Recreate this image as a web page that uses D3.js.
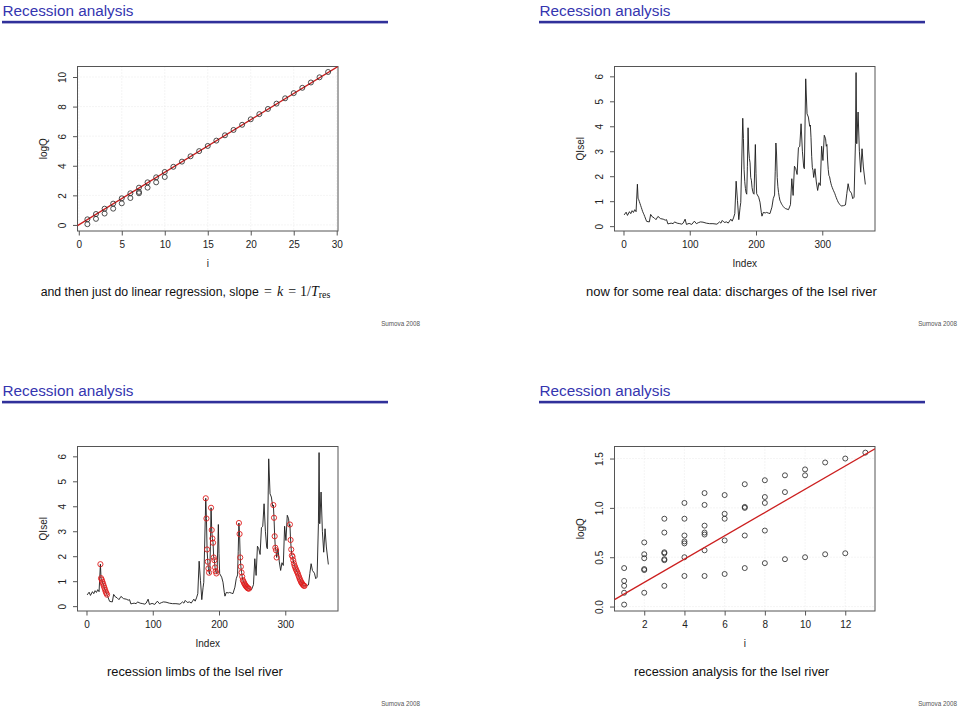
<!DOCTYPE html>
<html><head><meta charset="utf-8">
<script src="https://cdn.jsdelivr.net/npm/d3@7"></script>
<style>body{margin:0;background:#fff} svg{display:block}</style>
</head><body>
<svg id="c" width="960" height="710"></svg>
<script>
// ---------- DATA ----------
// Slide 1: synthetic recession example (i vs logQ)
const fitI    = [1,1,2,2,3,3,4,4,5,5,6,6,7,7,7,8,8,9,9,10,10,11,12,13,14,15,16,17,18,19,20,21,22,23,24,25,26,27,28,29];
const fitLogQ = [0.38,0.05,0.74,0.41,1.10,0.77,1.44,1.10,1.80,1.46,2.14,1.82,2.52,2.23,2.14,2.88,2.52,3.22,2.88,3.58,3.24,
                 3.93,4.28,4.64,4.99,5.34,5.70,6.06,6.42,6.77,7.14,7.49,7.84,8.20,8.56,8.91,9.27,9.63,9.98,10.34];
const fitSlope = 0.355, fitIntercept = 0.01;

// Slides 2/3: daily discharge of the Isel river (Index vs QIsel), read at key days
const qIndex = [1,4,6,9,11,13,15,17,19,21,22,23,24,25,26,27,28,29,30,31,32,34,35,39,41,44,46,49,52,56,60,63,65,67,70,72,75,77,81,85,88,90,93,95,99,103,107,110,113,116,120,125,130,135,141,145,147,149,152,156,158,162,164,166,168,170,172,174,176,177,
  180,181,182,183,184,185,186,187,188,189,190,191,192,193,194,195,196,197,199,200,201,204,206,208,209,211,214,216,219,221,224,226,228,229,
  230,231,232,233,234,235,236,237,238,239,240,241,242,243,244,245,249,252,254,256,258,260,262,264,266,268,270,272,273,275,277,279,281,
  282,283,284,285,286,287,289,291,293,295,297,299,301,303,305,306,
  307,308,309,310,311,312,313,314,315,316,317,318,319,320,321,322,323,324,325,326,327,328,329,
  332,335,337,339,341,344,346,348,350,351,352,354,356,358,360,362,365];
const qValue = [0.45,0.56,0.43,0.58,0.50,0.62,0.55,0.66,0.58,1.68,1.12,1.06,0.98,0.90,0.82,0.74,0.66,0.58,0.52,0.46,0.39,0.25,0.19,0.17,0.47,0.36,0.34,0.26,0.39,0.30,0.28,0.24,0.26,0.09,0.11,0.12,0.10,0.17,0.12,0.10,0.08,0.12,0.28,0.07,0.11,0.07,0.20,0.10,0.14,0.17,0.16,0.12,0.10,0.10,0.08,0.17,0.12,0.23,0.15,0.17,0.12,0.28,0.20,0.33,0.50,1.80,1.03,0.26,0.76,0.95,
  4.32,3.51,2.27,1.78,1.51,1.34,1.28,2.40,3.94,3.05,2.71,2.54,1.95,1.84,1.55,1.40,1.31,1.28,3.27,2.10,1.30,1.16,0.96,0.55,0.40,0.55,0.53,0.55,0.52,0.50,0.76,1.10,1.25,2.20,
  3.33,2.89,1.95,1.58,1.35,1.18,1.04,0.98,0.92,0.87,0.83,0.79,0.76,0.73,0.71,0.70,0.66,0.86,1.90,1.23,2.40,2.30,2.07,3.14,3.20,4.10,3.00,2.35,2.30,5.90,4.50,4.37,4.00,
  4.05,3.54,2.80,2.34,2.24,1.95,2.30,1.77,1.43,1.74,1.63,3.20,2.63,3.64,3.50,3.20,
  3.27,2.65,2.27,2.03,1.98,1.84,1.72,1.62,1.55,1.48,1.42,1.36,1.30,1.22,1.15,1.08,1.02,0.96,0.92,0.88,0.85,0.82,0.81,
  0.82,0.85,1.30,1.70,1.43,1.32,1.10,1.16,3.30,6.15,3.30,4.57,3.00,2.16,3.10,2.37,1.67];
// recession limbs (first and last day of each limb)
const limbStart = [21,180,188,230,282,307];
const limbEnd   = [31,185,196,245,287,329];

// Slide 4: recession analysis of the Isel limbs (i vs logQ)
const anI    = [1,1,1,1,1, 2,2,2,2,2,2, 3,3,3,3,3,3,3, 4,4,4,4,4,4,4, 5,5,5,5,5,5,5, 6,6,6,6,6, 7,7,7,7,7, 8,8,8,8,8, 9,9,9, 10,10,10, 11,11, 12,12, 13];
const anLogQ = [0.02,0.14,0.21,0.26,0.39, 0.14,0.37,0.38,0.49,0.53,0.65, 0.21,0.47,0.48,0.54,0.55,0.75,0.89, 0.31,0.50,0.64,0.66,0.72,0.89,1.05,
                0.31,0.57,0.73,0.75,0.82,1.03,1.15, 0.33,0.67,0.89,0.94,1.13, 0.39,0.72,1.00,1.01,1.24, 0.44,0.77,1.05,1.11,1.28,
                0.48,1.16,1.33, 0.50,1.33,1.39, 0.53,1.46, 0.54,1.50, 1.56];
const anSlope = 0.118, anIntercept = 0.009;

// Tick values
const ticks1X = [0,5,10,15,20,25,30], ticks1Y = [0,2,4,6,8,10];
const ticksQX = [0,100,200,300],      ticksQY = [0,1,2,3,4,5,6];
const ticks4X = [2,4,6,8,10,12],      ticks4Y = [0,0.5,1,1.5];

const titles   = ["Recession analysis","Recession analysis","Recession analysis","Recession analysis"];
const captions = ["and then just do linear regression, slope","now for some real data: discharges of the Isel river",
                  "recession limbs of the Isel river","recession analysis for the Isel river"];
const footer = "Sumova 2008";

// ---------- DRAWING ----------
const svg = d3.select("#c");
const SANS = "'Liberation Sans', Arial, sans-serif";
const SERIF = "'Liberation Serif', 'Times New Roman', serif";
const BOX = {l:77.5, r:338, t:66.5, b:231};
let clipId = 0;

// text sized so that its natural width equals the wanted width
function fitText(sel, base, len) {
  sel.attr("font-size", base);
  const w = sel.node().getComputedTextLength();
  sel.attr("font-size", (base * len / w).toFixed(2));
  return sel;
}

function slide(ox, oy, k) {
  const g = svg.append("g").attr("transform", `translate(${ox},${oy})`);
  const t = g.append("text").attr("x", 2.5).attr("y", 16.3)
    .attr("font-family", SANS).attr("fill", "#3535b0").text(titles[k]);
  fitText(t, 16.5, 131);
  g.append("rect").attr("x", 2).attr("y", 20.8).attr("width", 386).attr("height", 2.6).attr("fill", "#30309a");
  g.append("text").attr("x", 420).attr("y", 325.5).attr("text-anchor", "end")
    .attr("font-family", SANS).attr("font-size", 6.3).attr("fill", "#555").text(footer);
  return g;
}

function plotFrame(g, xd, yd, tx, ty, xlab, ylab, grid, yfmt) {
  const x = d3.scaleLinear().domain(xd).range([BOX.l, BOX.r]);
  const y = d3.scaleLinear().domain(yd).range([BOX.b, BOX.t]);
  if (grid) {
    g.append("g").selectAll("line.gx").data(tx).join("line")
      .attr("x1", d => x(d)).attr("x2", d => x(d)).attr("y1", BOX.t).attr("y2", BOX.b)
      .attr("stroke", "#e4e4e4").attr("stroke-dasharray", "1,2").attr("stroke-width", 0.8);
    g.append("g").selectAll("line.gy").data(ty).join("line")
      .attr("y1", d => y(d)).attr("y2", d => y(d)).attr("x1", BOX.l).attr("x2", BOX.r)
      .attr("stroke", "#e4e4e4").attr("stroke-dasharray", "1,2").attr("stroke-width", 0.8);
  }
  const ax = g.append("g").attr("transform", `translate(0,${BOX.b})`)
    .call(d3.axisBottom(x).tickValues(tx).tickSize(4.5).tickSizeOuter(0).tickPadding(5).tickFormat(d3.format("d")));
  ax.select(".domain").remove();
  ax.selectAll("line").attr("stroke", "#555");
  ax.selectAll("text").attr("font-family", SANS).attr("font-size", 10).attr("fill", "#222");
  const ay = g.append("g").attr("transform", `translate(${BOX.l},0)`)
    .call(d3.axisLeft(y).tickValues(ty).tickSize(4.5).tickSizeOuter(0).tickFormat(yfmt));
  ay.select(".domain").remove();
  ay.selectAll("line").attr("stroke", "#555");
  ay.selectAll("text").attr("font-family", SANS).attr("font-size", 10).attr("fill", "#222")
    .attr("transform", "rotate(-90)").attr("x", 0).attr("y", -15.5).attr("dy", "0.35em").attr("text-anchor", "middle");
  g.append("rect").attr("x", BOX.l).attr("y", BOX.t).attr("width", BOX.r - BOX.l).attr("height", BOX.b - BOX.t)
    .attr("fill", "none").attr("stroke", "#555").attr("stroke-width", 1);
  g.append("text").attr("x", (BOX.l + BOX.r) / 2).attr("y", 266.5).attr("text-anchor", "middle")
    .attr("font-family", SANS).attr("font-size", 10).attr("fill", "#222").text(xlab);
  g.append("text").attr("transform", `translate(43,${(BOX.t + BOX.b) / 2}) rotate(-90)`).attr("dy", "0.35em")
    .attr("text-anchor", "middle").attr("font-family", SANS).attr("font-size", 10).attr("fill", "#222").text(ylab);
  const id = "clip" + (clipId++);
  g.append("clipPath").attr("id", id).append("rect")
    .attr("x", BOX.l).attr("y", BOX.t).attr("width", BOX.r - BOX.l).attr("height", BOX.b - BOX.t);
  return {x, y, clip: `url(#${id})`};
}

function caption(g, x0, len, txt) {
  const t = g.append("text").attr("x", x0).attr("y", 296.3).attr("font-family", SANS).attr("fill", "#111").text(txt);
  return fitText(t, 12.8, len);
}

function regLine(g, p, a, b) {
  const xd = p.x.domain();
  g.append("line").attr("clip-path", p.clip)
    .attr("x1", p.x(xd[0])).attr("y1", p.y(a + b * xd[0]))
    .attr("x2", p.x(xd[1])).attr("y2", p.y(a + b * xd[1]))
    .attr("stroke", "#cc1f1f").attr("stroke-width", 1.3);
}
function openPoints(g, p, xs, ys) {
  g.append("g").selectAll("circle").data(xs.map((d, i) => [d, ys[i]])).join("circle")
    .attr("cx", d => p.x(d[0])).attr("cy", d => p.y(d[1])).attr("r", 2.5)
    .attr("fill", "none").attr("stroke", "#222").attr("stroke-width", 0.8);
}

const fmtInt = d3.format("d"), fmt1 = d3.format(".1f");

// Slide 1
{
  const g = slide(0, 0, 0);
  const p = plotFrame(g, [-0.15, 30.15], [-0.41, 10.71], ticks1X, ticks1Y, "i", "logQ", true, fmtInt);
  regLine(g, p, fitIntercept, fitSlope);
  openPoints(g, p, fitI, fitLogQ);
  caption(g, 40.7, 218, captions[0]);
  const t = g.append("text").attr("x", 264).attr("y", 296.3).attr("font-family", SERIF).attr("font-size", 14).attr("fill", "#111");
  t.append("tspan").text("=");
  t.append("tspan").attr("font-style", "italic").attr("dx", 5).text("k");
  t.append("tspan").attr("dx", 5).text("=");
  t.append("tspan").attr("dx", 4).text("1/");
  t.append("tspan").attr("font-style", "italic").text("T");
  t.append("tspan").attr("font-size", 10).attr("dy", 2).text("res");
}

// Slides 2 and 3
const qData = qIndex.map((d, i) => [d, qValue[i]]);
function qPlot(g, withLimbs) {
  const p = plotFrame(g, [-13.56, 379.56], [-0.194, 6.394], ticksQX, ticksQY, "Index", "QIsel", false, fmtInt);
  g.append("path").datum(qData)
    .attr("d", d3.line().x(d => p.x(d[0])).y(d => p.y(d[1])))
    .attr("fill", "none").attr("stroke", "#1a1a1a").attr("stroke-width", 0.9).attr("stroke-linejoin", "round");
  if (withLimbs) {
    const pts = qData.filter(d => limbStart.some((s, j) => d[0] >= s && d[0] <= limbEnd[j]));
    g.append("g").selectAll("circle").data(pts).join("circle")
      .attr("cx", d => p.x(d[0])).attr("cy", d => p.y(d[1])).attr("r", 2.6)
      .attr("fill", "none").attr("stroke", "#e01e1e").attr("stroke-width", 0.9);
  }
}
{
  const g = slide(537, 0, 1);
  qPlot(g, false);
  caption(g, 49, 291, captions[1]);
}
{
  const g = slide(0, 380, 2);
  qPlot(g, true);
  caption(g, 107, 176, captions[2]);
}

// Slide 4
{
  const g = slide(537, 380, 3);
  const p = plotFrame(g, [0.52, 13.48], [-0.045, 1.622], ticks4X, ticks4Y, "i", "logQ", true, fmt1);
  openPoints(g, p, anI, anLogQ);
  regLine(g, p, anIntercept, anSlope);
  caption(g, 97, 195, captions[3]);
}
</script>
</body></html>
